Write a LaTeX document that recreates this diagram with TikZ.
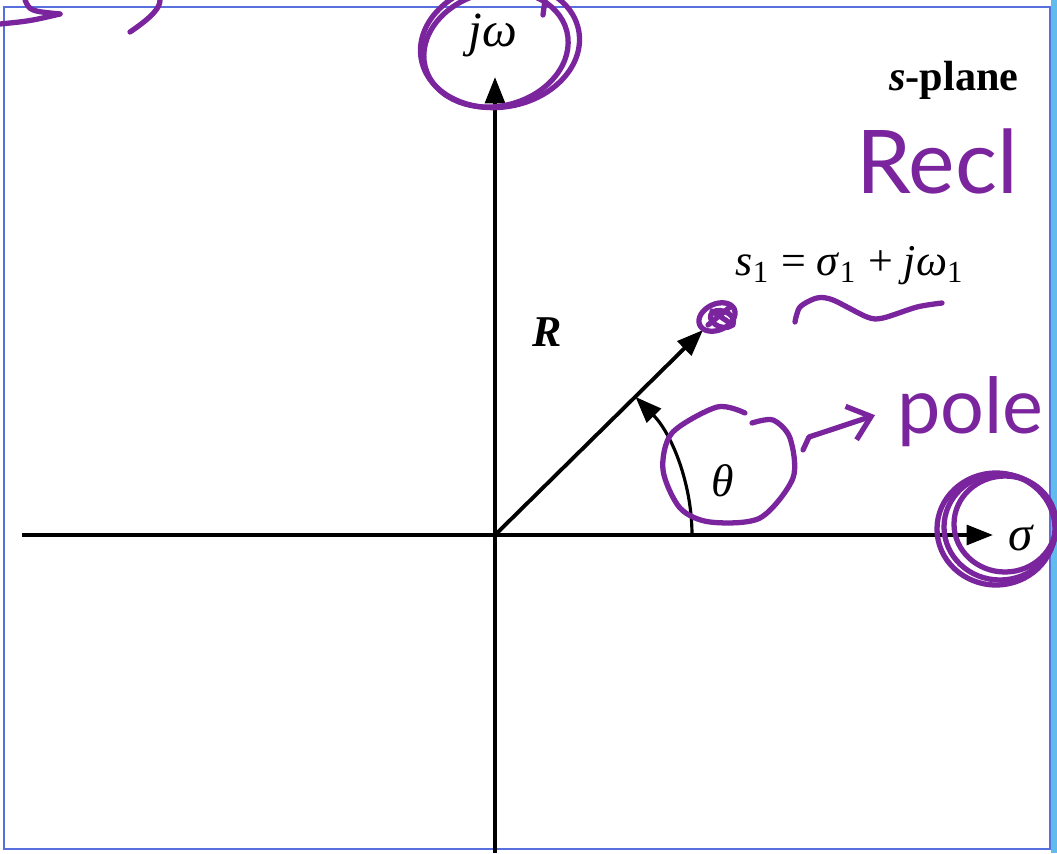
\documentclass[tikz,border=0pt]{standalone}
\usepackage{fontspec}
\setmainfont{Liberation Serif}
\newfontfamily\handfont{Lato}
\usepackage{tikz}
\usetikzlibrary{arrows.meta,calc}
\usetikzlibrary{positioning}
\definecolor{ink}{RGB}{122,36,158}
\definecolor{framecol}{RGB}{88,112,222}
\definecolor{skyblue}{RGB}{96,188,236}

\begin{document}
\begin{tikzpicture}[x=0.01cm,y=0.01cm,>={Triangle[length=7.5pt,width=5.6pt]},
  axis/.style={line width=1.1pt},
  pen/.style={draw=ink,line width=1.5pt,line cap=round,line join=round},
  hand/.style={text=ink,font=\handfont\fontsize{25}{27}\selectfont},
  every node/.style={inner sep=1pt,font=\fontsize{12.5}{14}\selectfont}]
\useasboundingbox (0,0) rectangle (1057,853);
\clip (0,0) rectangle (1057,853);
\fill[white] (0,0) rectangle (1057,853);
\fill[skyblue] (1051,0) rectangle (1057,853);
\draw[framecol,line width=0.6pt] (4,4) rectangle (1050,846);
% axes and vector
\coordinate (O) at (495,318);
\coordinate (xl) at (22,318);
\coordinate (xr) at (993,318);
\coordinate (yb) at (495,0);
\coordinate (yt) at (495,776);
\coordinate (P) at (703,523);
\draw[axis,->] (xl) -- (xr);
\draw[axis,->] (yb) -- (yt);
\draw[axis,->] (O) -- (P);
\draw[line width=0.9pt,->] (692,318) arc[start angle=0,end angle=44.5,radius=197];
% labels
\node (jw) at (493,818) {\fontsize{14}{16}\selectfont\textit{jω}};
\node (splane) at (954,773) {\fontsize{12}{14}\selectfont\textbf{\textit{s}-plane}};
\node (sone) at (850,587) {\textit{s}\textsubscript{1} = \textit{σ}\textsubscript{1} + \textit{jω}\textsubscript{1}};
\node (R) at (547,521) {\textbf{\textit{R}}};
\node (theta) at (723,372) {\fontsize{13}{15}\selectfont\textit{θ}};
\node (sigma) at (1021,315) {\fontsize{14}{16}\selectfont\textit{σ}};
% handwritten marks
\node[hand] (recl) at (937,692) {Recl};
\node[hand,anchor=base west,font=\handfont\fontsize{22}{24}\selectfont] (pole) at (893,420) {pole};
\draw[pen] (500,808) ellipse[x radius=80,y radius=62,rotate=10];
\draw[pen] (496,804) ellipse[x radius=73,y radius=57,rotate=14];
\draw[pen] (543,838) -- (545,853);
\draw[pen] (0,829) .. controls (30,832) .. (60,839);
\draw[pen] (25,853) .. controls (30,842) .. (60,839);
\draw[pen] (130,821) .. controls (152,836) and (160,845) .. (160,853);
\draw[pen] (717,536) ellipse[x radius=19,y radius=13,rotate=25];
\draw[pen] (722,534) ellipse[x radius=12,y radius=8,rotate=-20];
\draw[pen] (708,528) -- (730,546) (712,542) -- (733,528);
\draw[pen] plot[smooth] coordinates {(795,531) (800,546) (817,555) (833,553) (867,536) (883,535) (917,546) (942,550)};
\draw[pen] plot[smooth] coordinates {(745,440) (717,446) (672,420) (663,383) (680,345) (710,331) (760,335) (793,375) (790,415) (773,433) (752,430)};
\coordinate (hk) at (803,403);
\draw[pen,-{Straight Barb[length=6pt,width=10pt]}] (hk) -- ++(6,13) -- ($(pole.west)+(-18,-4)$);
\foreach \dx/\dy/\r in {0/0/56,5/3/51,-4/-2/59}
  \draw[pen] (1000+\dx,326+\dy) ellipse[x radius=\r,y radius=\r-3];
\end{tikzpicture}
\end{document}
